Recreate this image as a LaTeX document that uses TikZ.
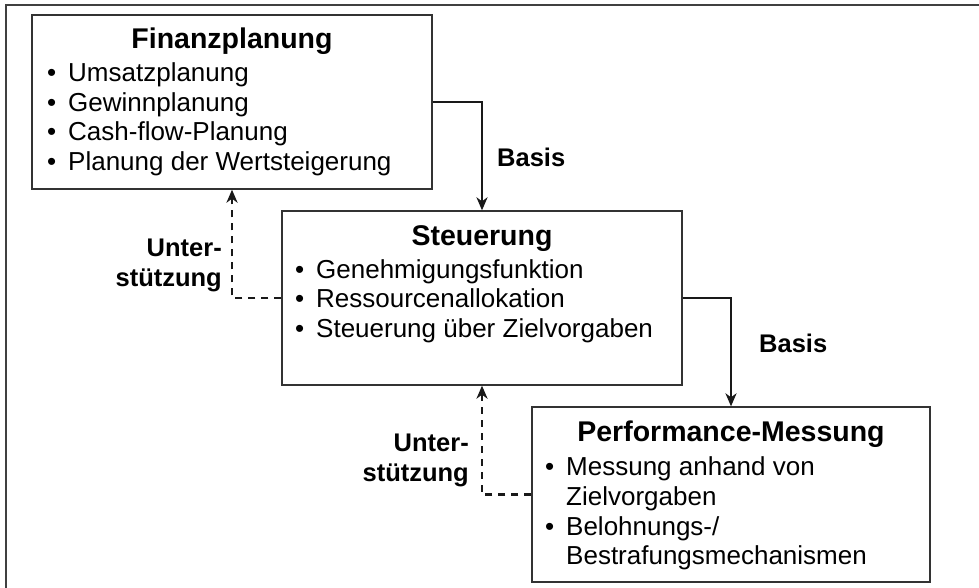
\documentclass[tikz,border=0pt]{standalone}
\usepackage{fontspec}
\setmainfont{Liberation Sans}
\usetikzlibrary{arrows.meta}

\tikzset{
  box/.style={draw=black!80, line width=1.3pt, minimum width=#1, minimum height=174pt, inner sep=0pt},
  titel/.style={font=\fontsize{28.5}{34}\selectfont\bfseries, anchor=base, inner sep=0pt},
  punkt/.style={font=\fontsize{26}{30}\selectfont, anchor=base west, inner sep=0pt},
  beschr/.style={font=\fontsize{25.5}{30}\selectfont\bfseries, inner sep=0pt},
  basispfeil/.style={line width=2.4pt, black!90, -{Stealth[length=13pt,width=11pt,inset=4pt]}},
  hilfspfeil/.style={line width=2.4pt, black!90, dash pattern=on 7pt off 6pt, -{Stealth[length=13pt,width=11pt,inset=4pt]}}
}
\newcommand{\bul}{\llap{\textbullet\hspace{12pt}}}

\begin{document}
\begin{tikzpicture}[x=1pt,y=-1pt]
\useasboundingbox (0,0) rectangle (979,588);

% Rahmen
\draw[line width=1.6pt, black!75] (979,5) -- (6,5) -- (6,588);

% Kaesten
\node[box=400pt] (fin) at (232,102) {};
\node[box=400pt] (steu) at (482,298) {};
\node[box=398pt, minimum height=175pt] (perf) at (731,494.5) {};

% Finanzplanung
\node[titel] (fintitel) at (232,49) {Finanzplanung};
\node[punkt] (fin1) at (68,82) {\bul Umsatzplanung};
\node[punkt] (fin2) at (68,111.5) {\bul Gewinnplanung};
\node[punkt] (fin3) at (68,141) {\bul Cash-flow-Planung};
\node[punkt] (fin4) at (68,170.5) {\bul Planung der Wertsteigerung};

% Steuerung
\node[titel] (steutitel) at (482,245) {Steuerung};
\node[punkt] (steu1) at (316,278) {\bul Genehmigungsfunktion};
\node[punkt] (steu2) at (316,307.5) {\bul Ressourcenallokation};
\node[punkt] (steu3) at (316,337) {\bul Steuerung über Zielvorgaben};

% Performance-Messung
\node[titel] (perftitel) at (731,441) {Performance-Messung};
\node[punkt] (perf1) at (566,475) {\bul Messung anhand von};
\node[punkt] (perf2) at (566,505) {Zielvorgaben};
\node[punkt] (perf3) at (566,535) {\bul Belohnungs-/};
\node[punkt] (perf4) at (566,564) {Bestrafungsmechanismen};

% Verbindungen
\draw[basispfeil] (fin.east) -| (steu.north);
\draw[basispfeil] (steu.east) -| (perf.north);
\draw[hilfspfeil] (steu.west) -| (fin.south);
\draw[hilfspfeil] (perf.west) -| (steu.south);

\node[beschr, anchor=base west] (basis1) at (497,167) {Basis};
\node[beschr, anchor=base west] (basis2) at (759,352) {Basis};
\node[beschr, anchor=base east] (unter1) at (222,256) {Unter-};
\node[beschr, anchor=base east] (stuetz1) at (222,286) {stützung};
\node[beschr, anchor=base east] (unter2) at (469,451) {Unter-};
\node[beschr, anchor=base east] (stuetz2) at (469,481) {stützung};

\end{tikzpicture}
\end{document}
